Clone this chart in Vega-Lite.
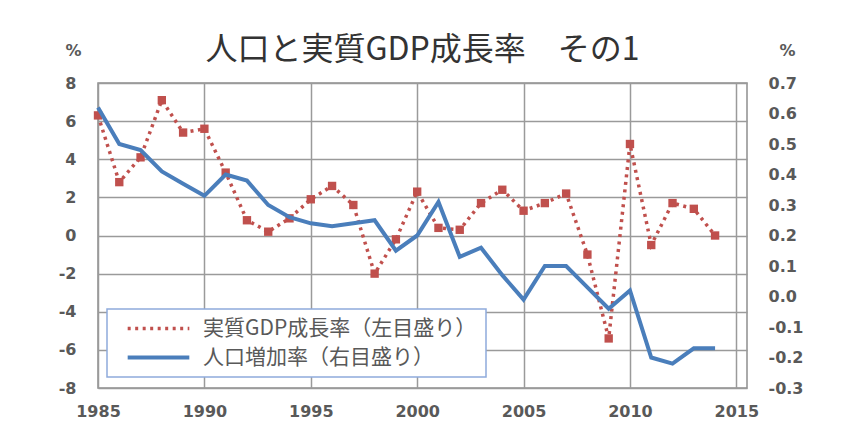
{
  "$schema": "https://vega.github.io/schema/vega-lite/v6.json",
  "width": 649,
  "height": 305,
  "autosize": {"type": "none"},
  "padding": {"left": 98, "top": 83, "right": 99, "bottom": 54},
  "background": "white",
  "title": {
    "text": "人口と実質GDP成長率　その1",
    "font": "Noto Sans CJK JP",
    "fontSize": 32,
    "fontWeight": "normal",
    "color": "#333333",
    "anchor": "middle",
    "offset": -25
  },
  "config": {
    "view": {"stroke": "#8f8f8f", "strokeWidth": 1.5},
    "axis": {
      "labelFont": "DejaVu Sans",
      "labelFontSize": 16,
      "labelFontWeight": "bold",
      "labelColor": "#595959",
      "titleFont": "DejaVu Sans",
      "titleFontSize": 16,
      "titleFontWeight": "bold",
      "titleColor": "#595959",
      "gridColor": "#9a9a9a",
      "gridWidth": 1.5,
      "gridOpacity": 1,
      "domain": false,
      "ticks": false
    }
  },
  "data": {
    "values": [
      {"year": 1985, "gdp": 6.3, "pop": 0.62},
      {"year": 1986, "gdp": 2.8, "pop": 0.50},
      {"year": 1987, "gdp": 4.1, "pop": 0.48},
      {"year": 1988, "gdp": 7.1, "pop": 0.41},
      {"year": 1989, "gdp": 5.4, "pop": 0.37},
      {"year": 1990, "gdp": 5.6, "pop": 0.33},
      {"year": 1991, "gdp": 3.3, "pop": 0.40},
      {"year": 1992, "gdp": 0.8, "pop": 0.38},
      {"year": 1993, "gdp": 0.2, "pop": 0.30},
      {"year": 1994, "gdp": 0.9, "pop": 0.26},
      {"year": 1995, "gdp": 1.9, "pop": 0.24},
      {"year": 1996, "gdp": 2.6, "pop": 0.23},
      {"year": 1997, "gdp": 1.6, "pop": 0.24},
      {"year": 1998, "gdp": -2.0, "pop": 0.25},
      {"year": 1999, "gdp": -0.2, "pop": 0.15},
      {"year": 2000, "gdp": 2.3, "pop": 0.20},
      {"year": 2001, "gdp": 0.4, "pop": 0.31},
      {"year": 2002, "gdp": 0.3, "pop": 0.13},
      {"year": 2003, "gdp": 1.7, "pop": 0.16},
      {"year": 2004, "gdp": 2.4, "pop": 0.07},
      {"year": 2005, "gdp": 1.3, "pop": -0.01},
      {"year": 2006, "gdp": 1.7, "pop": 0.10},
      {"year": 2007, "gdp": 2.2, "pop": 0.10},
      {"year": 2008, "gdp": -1.0, "pop": 0.03},
      {"year": 2009, "gdp": -5.4, "pop": -0.04},
      {"year": 2010, "gdp": 4.8, "pop": 0.02},
      {"year": 2011, "gdp": -0.5, "pop": -0.20},
      {"year": 2012, "gdp": 1.7, "pop": -0.22},
      {"year": 2013, "gdp": 1.4, "pop": -0.17},
      {"year": 2014, "gdp": 0.0, "pop": -0.17}
    ]
  },
  "encoding": {
    "x": {
      "field": "year",
      "type": "quantitative",
      "scale": {"domain": [1985, 2015.5], "nice": false, "zero": false},
      "axis": {
        "values": [1985, 1990, 1995, 2000, 2005, 2010, 2015],
        "format": "d",
        "title": null,
        "grid": true,
        "labelPadding": 15,
        "labelFlush": false
      }
    }
  },
  "layer": [
    {
      "encoding": {
        "y": {
          "field": "gdp",
          "type": "quantitative",
          "scale": {"domain": [-8, 8], "nice": false},
          "axis": {
            "orient": "left",
            "values": [-8, -6, -4, -2, 0, 2, 4, 6, 8],
            "labelExpr": "replace(datum.label, '−', '-')",
            "grid": true,
            "labelPadding": 22,
            "title": "%",
            "titleAngle": 0,
            "titleX": -25,
            "titleY": -33,
            "titleAlign": "center",
            "titleBaseline": "middle"
          }
        }
      },
      "layer": [
        {
          "mark": {"type": "line", "strokeWidth": 3.5, "strokeDash": [3, 4.5], "color": "#C0504D"},
          "encoding": {
            "color": {
              "datum": "実質GDP成長率（左目盛り）",
              "scale": {
                "domain": ["実質GDP成長率（左目盛り）", "人口増加率（右目盛り）"],
                "range": ["#C0504D", "#4A7EBB"]
              },
              "legend": {
                "title": null,
                "orient": "none",
                "legendX": 9,
                "legendY": 226,
                "direction": "vertical",
                "fillColor": "white",
                "strokeColor": "#8faadc",
                "padding": 9,
                "symbolType": "stroke",
                "symbolSize": 3800,
                "symbolStrokeWidth": 4,
                "symbolOffset": 32,
                "labelOffset": 34,
                "labelFont": "Noto Sans CJK JP",
                "labelFontSize": 21,
                "labelColor": "#595959",
                "labelLimit": 500,
                "rowPadding": 7,
                "encode": {
                  "legend": {"update": {"strokeWidth": {"value": 1.5}}},
                  "symbols": {
                    "update": {
                      "strokeDash": {"signal": "datum.value == '実質GDP成長率（左目盛り）' ? [3, 4.5] : [1, 0]"},
                      "strokeWidth": {"signal": "datum.value == '実質GDP成長率（左目盛り）' ? 3.5 : 4"}
                    }
                  }
                }
              }
            }
          }
        },
        {
          "mark": {"type": "point", "shape": "square", "filled": true, "size": 70, "color": "#C0504D", "opacity": 1}
        }
      ]
    },
    {
      "mark": {"type": "line", "strokeWidth": 4, "color": "#4A7EBB"},
      "encoding": {
        "color": {"datum": "人口増加率（右目盛り）"},
        "y": {
          "field": "pop",
          "type": "quantitative",
          "scale": {"domain": [-0.3, 0.7], "nice": false, "zero": false},
          "axis": {
            "orient": "right",
            "values": [-0.3, -0.2, -0.1, 0, 0.1, 0.2, 0.3, 0.4, 0.5, 0.6, 0.7],
            "format": ".1f",
            "labelExpr": "replace(datum.label, '−', '-')",
            "grid": false,
            "labelPadding": 21,
            "title": "%",
            "titleAngle": 0,
            "titleX": 40,
            "titleY": -33,
            "titleAlign": "center",
            "titleBaseline": "middle"
          }
        }
      }
    }
  ],
  "resolve": {"scale": {"y": "independent"}}
}
